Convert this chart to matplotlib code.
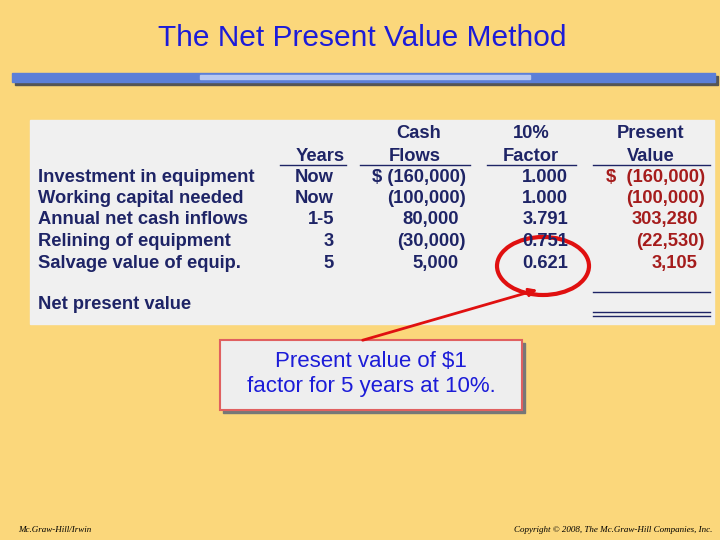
import matplotlib
matplotlib.use("Agg")
import matplotlib.pyplot as plt
from matplotlib.patches import Rectangle, Ellipse

title = "The Net Present Value Method"
row_labels = ["Investment in equipment", "Working capital needed", "Annual net cash inflows",
              "Relining of equipment", "Salvage value of equip."]
years = ["Now", "Now", "1-5", "3", "5"]
flows = ["$ (160,000)", "(100,000)", "80,000", "(30,000)", "5,000"]
factors = ["1.000", "1.000", "3.791", "0.751", "0.621"]
pvs = ["$  (160,000)", "(100,000)", "303,280", "(22,530)", "3,105"]
callout = "Present value of $1\nfactor for 5 years at 10%."

plt.rcParams['font.family'] = ['Liberation Sans', 'DejaVu Sans']
fig = plt.figure(figsize=(7.2, 5.4), dpi=100)
fig.patch.set_facecolor('#FBD77B')
ax = fig.add_axes([0, 0, 1, 1])
ax.set_xlim(0, 720); ax.set_ylim(540, 0); ax.axis('off')

ax.text(362, 46, title, ha='center', va='baseline', fontsize=21.5, color='#1C1CD8')
ax.add_patch(Rectangle((15, 76), 703, 9, color='#555555'))
ax.add_patch(Rectangle((12, 73), 703, 9, color='#5C7FD8'))
ax.add_patch(Rectangle((200, 75), 330, 4, color='#B8C8F0'))

ax.add_patch(Rectangle((30, 120), 684, 204, color='#F0F0F0'))
navy = '#1E2466'; red = '#A51C1C'; fs = 13.2
kw = dict(fontsize=fs, fontweight='bold', va='baseline')
off = 6
for t, x, y in [("Cash", 419, 132), ("Flows", 415, 155), ("10%", 531, 132), ("Factor", 531, 155),
                ("Present", 651, 132), ("Value", 651, 155), ("Years", 320, 155)]:
    ax.text(x, y + off, t, ha='center', color=navy, **kw)
for x0, x1 in [(280, 346), (360, 470), (487, 576), (593, 710)]:
    ax.plot([x0, x1], [165, 165], color=navy, lw=1)
ys = [176, 197, 218, 240, 262]
for i, y in enumerate(ys):
    ax.text(38, y + off, row_labels[i], ha='left', color=navy, **kw)
    ax.text(314 if years[i] == "Now" else 334, y + off, years[i],
            ha='center' if years[i] == "Now" else 'right', color=navy, **kw)
    f = flows[i]
    ax.text(466 if f.endswith(')') else 459, y + off, f, ha='right', color=navy, **kw)
    ax.text(568, y + off, factors[i], ha='right', color=navy, **kw)
    p = pvs[i]
    ax.text(705 if p.endswith(')') else 698, y + off, p, ha='right', color=red, **kw)
ax.text(38, 303 + off, "Net present value", ha='left', color=navy, **kw)
ax.plot([593, 710], [292, 292], color=navy, lw=1)
ax.plot([593, 710], [312, 312], color=navy, lw=1)
ax.plot([593, 710], [316, 316], color=navy, lw=1)

ax.add_patch(Ellipse((543, 266), 92, 58, fill=False, ec='#E01010', lw=3))
ax.annotate("", xy=(540, 289), xytext=(360, 341),
            arrowprops=dict(arrowstyle='-|>', color='#E01010', lw=2, mutation_scale=12))
ax.add_patch(Rectangle((223, 343), 302, 70, color='#777777'))
ax.add_patch(Rectangle((220, 340), 302, 70, fc='#EEEEEE', ec='#E06060', lw=1.5))
ax.text(371, 374, callout, ha='center', va='center', fontsize=16, color='#1C1CD8', linespacing=1.3)

ax.text(18, 530, "Mc.Graw-Hill/Irwin", ha='left', va='center', fontsize=6.5,
        fontstyle='italic', family=['Liberation Serif'])
ax.text(712, 530, "Copyright © 2008, The Mc.Graw-Hill Companies, Inc.", ha='right', va='center',
        fontsize=6.5, fontstyle='italic', family=['Liberation Serif'])
fig.savefig("out.png", dpi=100, facecolor=fig.get_facecolor())
